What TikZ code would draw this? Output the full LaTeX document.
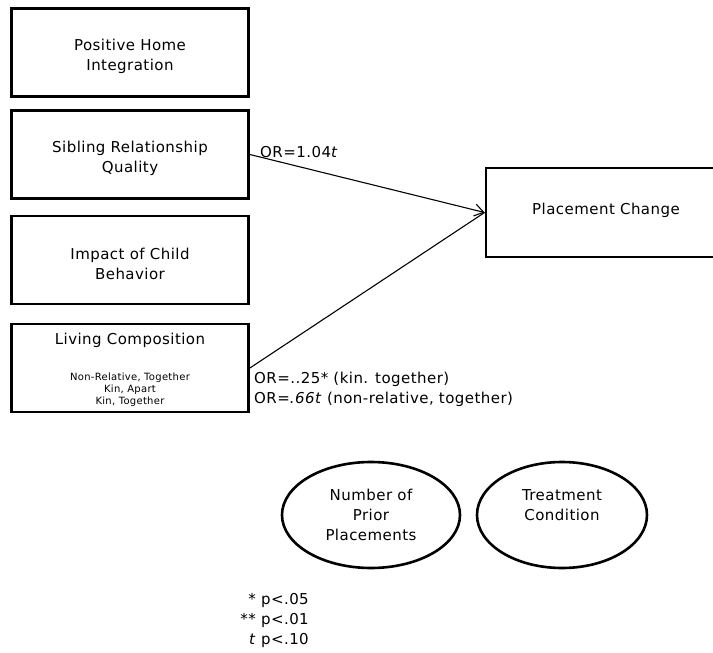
\documentclass[tikz,border=0pt]{standalone}
\usepackage{fontspec}
\setmainfont[LetterSpace=3]{DejaVu Sans}
\usetikzlibrary{arrows.meta,shapes.geometric}
% lowers a box caption a little below the box centre
\newcommand\capdrop{\rule{0pt}{19pt}}
\begin{document}
\begin{tikzpicture}[x=1pt,y=-1pt,
  every node/.style={font=\fontsize{15}{20}\selectfont, text=black},
  factor/.style={draw, line width=2.8pt, minimum width=237pt, minimum height=88pt,
                 align=center, inner sep=0pt},
  latent/.style={ellipse, draw, line width=2.6pt, minimum height=106pt,
                 align=center, inner sep=0pt},
  conn/.style={line width=1.1pt},
  small/.style={font=\fontsize{10}{12}\selectfont, align=center, inner sep=0pt},
  note/.style={align=left, inner sep=0pt}
]
\useasboundingbox (0,0) rectangle (713,653);

% predictor boxes
\node[factor] (home)   at (130,52.5)  {\capdrop Positive Home\\Integration};
\node[factor] (sib)    at (130,154.5) {\capdrop Sibling Relationship\\Quality};
\node[factor] (behav)  at (130,260)   {\capdrop Impact of Child\\Behavior};
\node[factor] (living) at (130,368)   {};
\node[inner sep=0pt] (livtitle) at (130,340) {Living Composition};
\node[small] (livcats) at (130,390) {Non-Relative, Together\\Kin, Apart\\Kin, Together};

% outcome box, running off the right edge
\node[factor, minimum width=240pt, minimum height=89pt] (pc) at (606,212.5)
  {\raisebox{8pt}{Placement Change}};

% covariates
\node[latent, minimum width=178pt] (prior) at (371,515) {Number of\\Prior\\Placements};
\node[latent, minimum width=170pt] (treat) at (562,515) {Treatment\\Condition\\\mbox{}};

% paths
\draw[conn, -{Straight Barb[length=9pt,width=12pt]}] (sib.east) -- (pc.west);
\draw[conn] (living.east) -- (pc.west);

% estimates
\node[note, anchor=west] (or1) at (260,152) {OR=1.04\textit{t}};
\node[note, anchor=north west] (or2) at (254,372)
  {OR=..25* (kin. together)\\OR=\textit{.66t} (non-relative,\ together)};

% significance key
\node[align=right, inner sep=0pt, anchor=north east] (key) at (309,593)
  {* p<.05\\** p<.01\\\textit{t} p<.10};
\end{tikzpicture}
\end{document}
